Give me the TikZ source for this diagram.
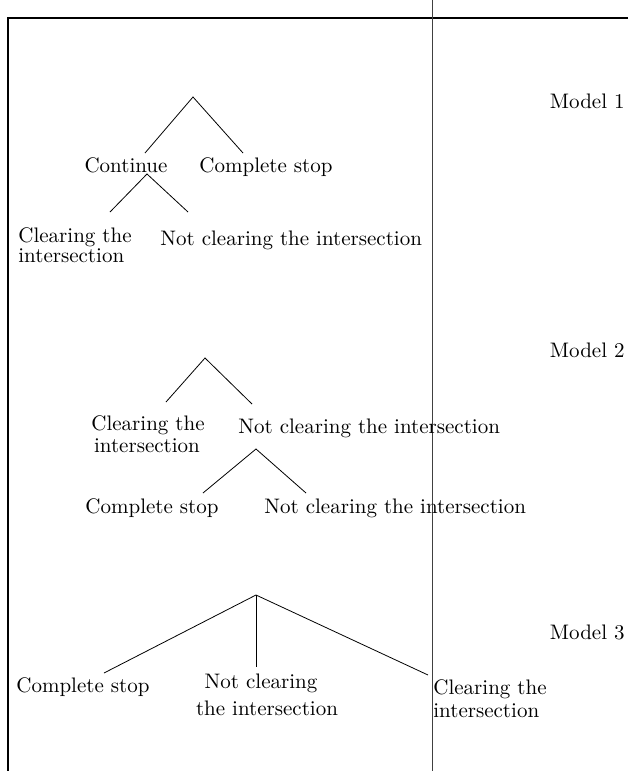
\documentclass[tikz,border=0pt]{standalone}
\begin{document}
\begin{tikzpicture}[x=0.5pt,y=-0.5pt,
  lbl/.style={inner sep=0pt, font=\fontsize{10.5}{12}\selectfont},
  edge/.style={line width=0.4pt},
  frame/.style={line width=0.8pt}]
\useasboundingbox (0,0) rectangle (628,771);
% frame
\coordinate (tl) at (8,18);
\coordinate (tr) at (628,18);
\coordinate (bl) at (8,771);
\coordinate (vt) at (432,0);
\coordinate (vb) at (432,771);
\draw[frame] (tr) -- (tl) -- (bl);
\draw[line width=0.5pt, black!75] (vt) -- (vb);

% Model 1
\node[lbl, anchor=base east] (m1) at (625,108) {Model 1};
\coordinate (a1) at (193,97);
\coordinate (a1l) at (145,153);
\coordinate (a1r) at (243,153);
\draw[edge] (a1l) -- (a1) -- (a1r);
\node[lbl, anchor=base] (cont) at (126,172) {Continue};
\node[lbl, anchor=base] (cs1) at (266,172) {Complete stop};
\coordinate (b1) at (147,174);
\coordinate (b1l) at (110,212);
\coordinate (b1r) at (188,212);
\draw[edge] (b1l) -- (b1) -- (b1r);
\node[lbl, anchor=base west] (ct1a) at (18,242) {Clearing the};
\node[lbl, anchor=base west] (ct1b) at (18,262) {intersection};
\node[lbl, anchor=base west] (nc1) at (160,245) {Not clearing the intersection};

% Model 2
\node[lbl, anchor=base east] (m2) at (625,357) {Model 2};
\coordinate (a2) at (205,358);
\coordinate (a2l) at (166,402);
\coordinate (a2r) at (252,404);
\draw[edge] (a2l) -- (a2) -- (a2r);
\node[lbl, anchor=base] (ct2a) at (148,430) {Clearing the};
\node[lbl, anchor=base] (ct2b) at (147,452) {intersection};
\node[lbl, anchor=base west] (nc2) at (238,433) {Not clearing the intersection};
\coordinate (b2) at (256,449);
\coordinate (b2l) at (203,493);
\coordinate (b2r) at (306,493);
\draw[edge] (b2l) -- (b2) -- (b2r);
\node[lbl, anchor=base] (cs2) at (152,513) {Complete stop};
\node[lbl, anchor=base west] (nc2b) at (264,513) {Not clearing the intersection};

% Model 3
\node[lbl, anchor=base east] (m3) at (625,639) {Model 3};
\coordinate (a3) at (256,595);
\coordinate (a3l) at (104,673);
\coordinate (a3m) at (256,667);
\coordinate (a3r) at (428,675);
\draw[edge] (a3l) -- (a3) -- (a3r);
\draw[edge] (a3) -- (a3m);
\node[lbl, anchor=base west] (cs3) at (16,692) {Complete stop};
\node[lbl, anchor=base] (nc3a) at (261,688) {Not clearing};
\node[lbl, anchor=base] (nc3b) at (267,715) {the intersection};
\node[lbl, anchor=base west] (ct3a) at (433,694) {Clearing the};
\node[lbl, anchor=base west] (ct3b) at (433,717) {intersection};
\end{tikzpicture}
\end{document}
